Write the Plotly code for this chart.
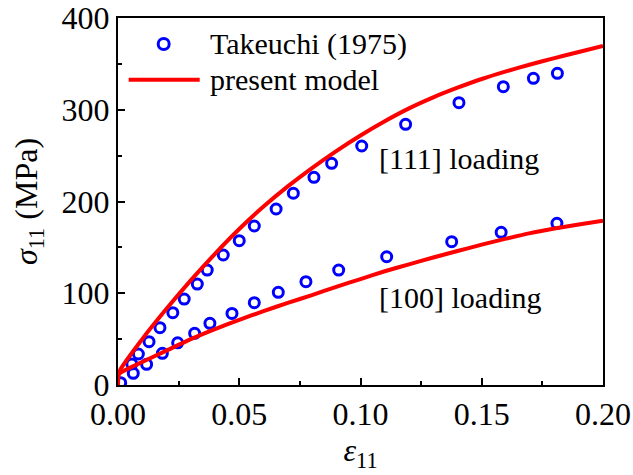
import plotly.graph_objects as go

# Experimental data (Takeuchi 1975)
exp111_x = [0.0011, 0.0057, 0.0084, 0.0128, 0.0173, 0.0226, 0.0273, 0.0327, 0.0368, 0.0434,
            0.0500, 0.0562, 0.0652, 0.0723, 0.0808, 0.0881, 0.1005, 0.1186, 0.1406, 0.1589,
            0.1713, 0.1812]
exp111_y = [2.5, 22.9, 33.8, 47.2, 62.5, 78.8, 93.7, 110.0, 125.3, 141.7,
            157.3, 173.3, 191.8, 209.0, 226.4, 241.6, 260.5, 284.1, 307.7, 325.1,
            334.3, 339.7]
exp100_x = [0.0063, 0.0118, 0.0183, 0.0246, 0.0316, 0.0379, 0.0470, 0.0562, 0.0661, 0.0775,
            0.0910, 0.1108, 0.1376, 0.1580, 0.1810]
exp100_y = [12.7, 22.5, 34.5, 46.0, 56.3, 67.2, 78.0, 89.7, 101.0, 112.6,
            125.3, 139.8, 156.2, 166.4, 176.2]

# Present model curves
model111_x = [0.0, 0.0004, 0.01, 0.02, 0.03, 0.04, 0.05, 0.06, 0.07, 0.08, 0.09, 0.10,
              0.11, 0.12, 0.13, 0.14, 0.15, 0.16, 0.17, 0.18, 0.19, 0.20]
model111_y = [0, 14, 50, 83, 114, 143, 170, 194.5, 216.5, 236.5, 255, 272,
              287.5, 301.5, 313.5, 324, 333.5, 341.8, 349.3, 356.3, 363, 369.5]
model100_x = [0.0, 0.0004, 0.01, 0.02, 0.03, 0.04, 0.05, 0.06, 0.07, 0.08, 0.09, 0.10,
              0.11, 0.12, 0.13, 0.14, 0.15, 0.16, 0.17, 0.18, 0.19, 0.20]
model100_y = [0, 12, 25, 37.5, 50, 61, 71, 80.5, 89.5, 98, 107, 115.5,
              124, 131.5, 139, 146, 153, 159.5, 165.5, 170.5, 175, 179]

legend_labels = ["Takeuchi (1975)", "present model"]

FONT = "Liberation Serif"
FS_TICK = 32
FS_TEXT = 30
BLUE = "#0000FF"
RED = "#FF0000"

fig = go.Figure()
mk = dict(symbol="circle-open", size=10, color=BLUE, line=dict(width=3, color=BLUE))
fig.add_trace(go.Scatter(x=exp111_x, y=exp111_y, mode="markers", name=legend_labels[0],
                         marker=mk, showlegend=False))
fig.add_trace(go.Scatter(x=exp100_x, y=exp100_y, mode="markers", marker=mk, showlegend=False))
fig.add_trace(go.Scatter(x=model111_x, y=model111_y, mode="lines", name=legend_labels[1],
                         line=dict(color=RED, width=4, shape="spline", smoothing=0.5),
                         showlegend=False))
fig.add_trace(go.Scatter(x=model100_x, y=model100_y, mode="lines", showlegend=False,
                         line=dict(color=RED, width=4, shape="spline", smoothing=0.5)))

# in-plot labels
fig.add_annotation(x=0.1067, y=247, text="[111] loading", showarrow=False, xanchor="left",
                   yanchor="middle", font=dict(family=FONT, size=FS_TEXT, color="black"))
fig.add_annotation(x=0.1067, y=95, text="[100] loading", showarrow=False, xanchor="left",
                   yanchor="middle", font=dict(family=FONT, size=FS_TEXT, color="black"))

# legend drawn manually (paper coordinates)
leg_y = [0.929, 0.832]
fig.add_shape(type="circle", xref="paper", yref="paper", xsizemode="pixel", ysizemode="pixel",
              xanchor=0.0942, yanchor=leg_y[0], x0=-5.5, x1=5.5, y0=-5.5, y1=5.5,
              line=dict(color=BLUE, width=3))
fig.add_shape(type="line", xref="paper", yref="paper", x0=0.022, x1=0.1685,
              y0=leg_y[1], y1=leg_y[1], line=dict(color=RED, width=4))
for lab, ly in zip(legend_labels, leg_y):
    fig.add_annotation(xref="paper", yref="paper", x=0.1856, y=ly, text=lab, showarrow=False,
                       xanchor="left", yanchor="middle",
                       font=dict(family=FONT, size=FS_TEXT, color="black"))

axis_common = dict(showgrid=False, zeroline=False, showline=True, linecolor="black",
                   linewidth=2, mirror=True, ticks="inside", ticklen=7, tickwidth=2,
                   tickcolor="black", tickfont=dict(family=FONT, size=FS_TICK, color="black"))

fig.update_xaxes(range=[0, 0.2], tickvals=[0, 0.05, 0.1, 0.15, 0.2],
                 ticktext=["0.00", "0.05", "0.10", "0.15", "0.20"],
                 minor=dict(ticks="inside", ticklen=4, tickwidth=2, tickcolor="black",
                            tickvals=[0.025, 0.075, 0.125, 0.175]),
                 title=dict(text="<i>ε</i><sub>11</sub>", font=dict(family=FONT, size=FS_TICK, color="black"),
                            standoff=4),
                 **axis_common)
fig.update_yaxes(range=[0, 400], tickvals=[0, 100, 200, 300, 400],
                 minor=dict(ticks="inside", ticklen=4, tickwidth=2, tickcolor="black",
                            tickvals=[50, 150, 250, 350]),
                 title=dict(text="<i>σ</i><sub>11</sub> (MPa)", font=dict(family=FONT, size=FS_TICK, color="black"),
                            standoff=14),
                 **axis_common)

fig.update_layout(
    width=633, height=475,
    margin=dict(l=118, r=30, t=18, b=90, autoexpand=False),
    paper_bgcolor="white", plot_bgcolor="white",
    font=dict(family=FONT, size=FS_TICK, color="black"),
    showlegend=False,
)

fig.write_html("out.html")
